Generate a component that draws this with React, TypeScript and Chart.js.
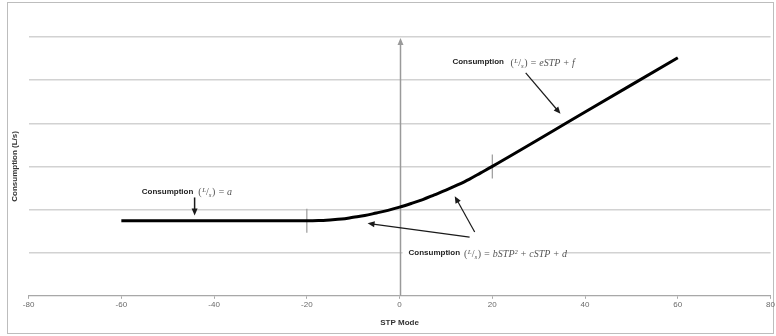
import React, { useEffect, useRef } from "react";
import { Chart, registerables } from "chart.js";
Chart.register(...registerables);

// STP mode (x) and consumption (y, gridline units)
const stpMode = [-60, -20, -17.5, -15, -12.5, -10, -7.5, -5, -2.5, 0, 2.5, 5, 7.5, 10, 12.5, 15, 17.5, 20, 40, 60];
const consumption = [1.74, 1.74, 1.745, 1.76, 1.78, 1.82, 1.86, 1.92, 1.98, 2.055, 2.14, 2.23, 2.34, 2.45, 2.57, 2.7, 2.85, 3.0, 4.26, 5.52];
const xTickValues = [-80, -60, -40, -20, 0, 20, 40, 60, 80];
const breakpointX = [-20, 20];
const breakpointY = [1.74, 3.0];
const labelMain = "Consumption";
const formulaA = "a";
const formulaEF = "eSTP + f";
const formulaBCD = "bSTP² + cSTP + d";

const SANS = '"Liberation Sans", Arial, sans-serif';
const SERIF = '"Liberation Serif", "Times New Roman", serif';

function arrow(ctx: CanvasRenderingContext2D, x1: number, y1: number, x2: number, y2: number, lw = 1.2) {
  const ang = Math.atan2(y2 - y1, x2 - x1);
  const hl = 7, hw = 3;
  ctx.save();
  ctx.strokeStyle = "#1a1a1a";
  ctx.fillStyle = "#1a1a1a";
  ctx.lineWidth = lw;
  ctx.beginPath();
  ctx.moveTo(x1, y1);
  ctx.lineTo(x2 - Math.cos(ang) * hl * 0.8, y2 - Math.sin(ang) * hl * 0.8);
  ctx.stroke();
  ctx.beginPath();
  ctx.moveTo(x2, y2);
  ctx.lineTo(x2 - Math.cos(ang) * hl - Math.sin(ang) * hw, y2 - Math.sin(ang) * hl + Math.cos(ang) * hw);
  ctx.lineTo(x2 - Math.cos(ang) * hl + Math.sin(ang) * hw, y2 - Math.sin(ang) * hl - Math.cos(ang) * hw);
  ctx.closePath();
  ctx.fill();
  ctx.restore();
}

function drawFormula(ctx: CanvasRenderingContext2D, x: number, yMid: number, tail: string): number {
  ctx.save();
  ctx.fillStyle = "#555";
  ctx.textBaseline = "alphabetic";
  ctx.textAlign = "left";
  const base = yMid + 3.5;
  const big = `italic 10px ${SERIF}`;
  const small = `italic 7px ${SERIF}`;
  let cx = x;
  ctx.font = `10px ${SERIF}`;
  ctx.fillText("(", cx, base);
  cx += ctx.measureText("(").width + 0.5;
  ctx.font = small;
  ctx.fillText("L", cx, base - 3);
  cx += ctx.measureText("L").width;
  ctx.font = `10px ${SERIF}`;
  ctx.fillText("/", cx, base);
  cx += ctx.measureText("/").width;
  ctx.font = small;
  ctx.fillText("s", cx, base + 2);
  cx += ctx.measureText("s").width + 0.5;
  ctx.font = `10px ${SERIF}`;
  ctx.fillText(")", cx, base);
  cx += ctx.measureText(")").width;
  ctx.font = big;
  const t = " = " + tail;
  ctx.fillText(t, cx, base);
  cx += ctx.measureText(t).width;
  ctx.restore();
  return cx;
}

function drawBold(ctx: CanvasRenderingContext2D, text: string, x: number, y: number) {
  ctx.save();
  ctx.font = `bold 8px ${SANS}`;
  ctx.fillStyle = "#222";
  ctx.textBaseline = "middle";
  ctx.textAlign = "left";
  ctx.fillText(text, x, y);
  ctx.restore();
}

const framePlugin = {
  id: "frame",
  beforeDraw(chart: any) {
    const { ctx, width, height } = chart;
    ctx.save();
    ctx.fillStyle = "#fff";
    ctx.fillRect(0, 0, width, height);
    ctx.strokeStyle = "#bdbdbd";
    ctx.lineWidth = 1;
    ctx.strokeRect(7.5, 2.5, width - 10, height - 5);
    ctx.restore();
  },
};

const annotPlugin = {
  id: "annot",
  beforeDatasetsDraw(chart: any) {
    const { ctx, scales } = chart;
    const X = (v: number) => scales.x.getPixelForValue(v);
    const Y = (v: number) => scales.y.getPixelForValue(v);
    // white background behind the quadratic label (hides gridline)
    ctx.save();
    const lx = X(1.94);
    const ly = Y(0.99);
    ctx.fillStyle = "#fff";
    ctx.fillRect(lx - 6, ly - 7, 162, 14);
    ctx.restore();
    // vertical axis at STP = 0 with arrow head
    const x0 = Math.round(X(0)) + 0.5;
    const yb = Y(0);
    const yt = Y(6) + 1;
    ctx.save();
    ctx.strokeStyle = "#9a9a9a";
    ctx.fillStyle = "#9a9a9a";
    ctx.lineWidth = 1.5;
    ctx.beginPath();
    ctx.moveTo(x0, yb);
    ctx.lineTo(x0, yt + 5);
    ctx.stroke();
    ctx.beginPath();
    ctx.moveTo(x0, yt);
    ctx.lineTo(x0 - 3, yt + 7);
    ctx.lineTo(x0 + 3, yt + 7);
    ctx.closePath();
    ctx.fill();
    // breakpoint markers
    ctx.lineWidth = 1.2;
    ctx.strokeStyle = "#9a9a9a";
    breakpointX.forEach((bx, i) => {
      const px = X(bx);
      const py = Y(breakpointY[i]);
      ctx.beginPath();
      ctx.moveTo(px, py - 12);
      ctx.lineTo(px, py + 12);
      ctx.stroke();
    });
    ctx.restore();
  },
  afterDatasetsDraw(chart: any) {
    const { ctx, scales } = chart;
    const X = (v: number) => scales.x.getPixelForValue(v);
    const Y = (v: number) => scales.y.getPixelForValue(v);
    // Label 1: constant
    drawBold(ctx, labelMain, X(-55.6), Y(2.42));
    drawFormula(ctx, X(-43.4), Y(2.42), formulaA);
    arrow(ctx, X(-44.2), Y(2.28), X(-44.2), Y(1.86), 1.5);
    // Label 2: linear
    drawBold(ctx, labelMain, X(11.4), Y(5.42));
    drawFormula(ctx, X(23.9), Y(5.42), formulaEF);
    arrow(ctx, X(27.2), Y(5.17), X(34.7), Y(4.22));
    // Label 3: quadratic
    drawBold(ctx, labelMain, X(1.94), Y(0.99));
    drawFormula(ctx, X(13.9), Y(0.99), formulaBCD);
    arrow(ctx, X(15.1), Y(1.36), X(-6.9), Y(1.68));
    arrow(ctx, X(16.2), Y(1.48), X(11.9), Y(2.31));
  },
};

export default function App() {
  const ref = useRef<HTMLCanvasElement | null>(null);
  useEffect(() => {
    document.body.style.margin = "0";
    if (!ref.current) return;
    const chart = new Chart(ref.current, {
      type: "scatter",
      data: {
        datasets: [
          {
            data: stpMode.map((x, i) => ({ x, y: consumption[i] })),
            showLine: true,
            borderColor: "#000",
            borderWidth: 3,
            pointRadius: 0,
            cubicInterpolationMode: "monotone",
            fill: false,
          },
        ],
      },
      options: {
        responsive: false,
        animation: false,
        events: [],
        layout: { padding: { left: 8, right: 5, top: 37, bottom: 4 } },
        plugins: {
          legend: { display: false },
          tooltip: { enabled: false },
          title: { display: false },
        },
        scales: {
          x: {
            type: "linear",
            min: -80,
            max: 80,
            afterBuildTicks: (axis: any) => {
              axis.ticks = xTickValues.map((v) => ({ value: v }));
            },
            grid: {
              display: true,
              drawOnChartArea: false,
              drawTicks: true,
              tickLength: 3,
              color: "#a8a8a8",
            },
            border: { display: true, color: "#a8a8a8", width: 1 },
            ticks: {
              padding: 1,
              color: "#6a6a6a",
              font: { family: SANS, size: 8 },
              maxRotation: 0,
            },
            title: {
              display: true,
              text: "STP Mode",
              color: "#333",
              font: { family: SANS, size: 8, weight: "bold" },
              padding: { top: 8, bottom: 4 },
            },
          },
          y: {
            min: 0,
            max: 6,
            ticks: { display: false, stepSize: 1 },
            grid: {
              display: true,
              drawTicks: false,
              color: "#d2d2d2",
              lineWidth: 1.5,
            },
            border: { display: false },
            title: {
              display: true,
              text: "Consumption (L/s)",
              color: "#333",
              font: { family: SANS, size: 8, weight: "bold" },
              padding: { top: 2, bottom: 9 },
            },
          },
        },
      } as any,
      plugins: [framePlugin, annotPlugin],
    });
    return () => chart.destroy();
  }, []);
  return <canvas ref={ref} width={776} height={336} style={{ display: "block" }} />;
}
